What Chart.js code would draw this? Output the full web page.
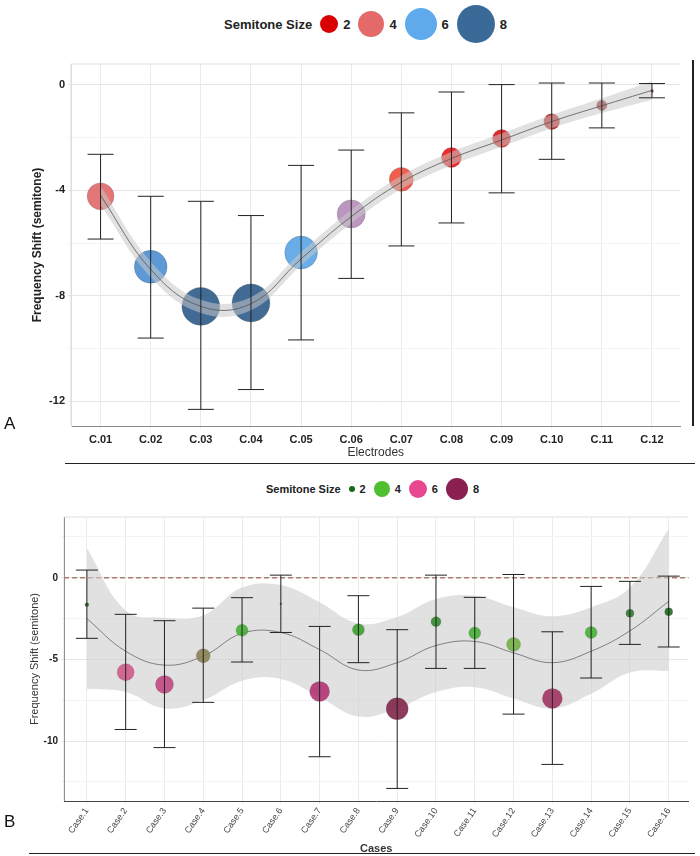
<!DOCTYPE html>
<html>
<head>
<meta charset="utf-8">
<script src="https://cdn.jsdelivr.net/npm/chart.js@4"></script>
<style>
  body { margin: 0; width: 700px; height: 856px; position: relative; background: #fff; font-family: "Liberation Sans", Arial, sans-serif; overflow: hidden; }
  .box { position: absolute; left: 0; width: 700px; }
  .legend { position: absolute; display: flex; align-items: center; font-weight: bold; color: #222; }
  .legend span.dot { display: inline-block; border-radius: 50%; margin: 0 5px 0 8px; }
  .rule { position: absolute; height: 1px; background: #222; }
  .tag { position: absolute; font-size: 17px; color: #111; }
</style>
</head>
<body>
<div class="legend" id="legA" style="left:224px; top:4px; height:40px; font-size:13px;"></div>
<div class="box" style="top:40px; height:420px;"><canvas id="chartA"></canvas></div>
<div style="position:absolute; left:692px; top:60px; width:1.5px; height:366px; background:#222;"></div>
<div class="tag" style="left:4px; top:414px;">A</div>
<div class="rule" style="left:65px; width:630px; top:463px;"></div>

<div class="legend" id="legB" style="left:266px; top:478px; height:22px; font-size:11px;"></div>
<div class="box" style="top:470px; height:386px;"><canvas id="chartB"></canvas></div>
<div class="tag" style="left:4px; top:812px;">B</div>
<div class="rule" style="left:29px; width:666px; top:853px;"></div>

<script>
// ============================================================
//  PANEL A — electrodes
// ============================================================
const electrodes = ['C.01','C.02','C.03','C.04','C.05','C.06','C.07','C.08','C.09','C.10','C.11','C.12'];
const shiftA     = [-4.23,-6.9,-8.4,-8.27,-6.36,-4.9,-3.59,-2.76,-2.04,-1.4,-0.79,-0.24];
const upperA     = [-2.64,-4.23,-4.42,-4.96,-3.06,-2.48,-1.07,-0.28,0,0.06,0.06,0.04];
const lowerA     = [-5.85,-9.6,-12.3,-11.55,-9.67,-7.34,-6.11,-5.24,-4.1,-2.83,-1.64,-0.5];
const sizeA      = [4,6,8,8,6,4.4,3.2,2.2,1.8,1.4,0.6,0.05];
const colorA     = ['#e06868','#4a8ed0','#2c5a88','#2c5a88','#58a4e4','#b48cb8','#f04c3c','#f01414','#e01414','#c41818','#a01c1c','#601010'];
const smoothA    = [-4.2,-7.0,-8.4,-8.3,-6.6,-5.0,-3.7,-2.8,-2.1,-1.4,-0.8,-0.22];
const bandA      = [0.35,0.3,0.25,0.25,0.25,0.25,0.25,0.25,0.25,0.25,0.28,0.35];
const yTicksA    = [0,-4,-8,-12];

// ============================================================
//  PANEL B — cases
// ============================================================
const cases   = ['Case.1','Case.2','Case.3','Case.4','Case.5','Case.6','Case.7','Case.8','Case.9','Case.10','Case.11','Case.12','Case.13','Case.14','Case.15','Case.16'];
const shiftB  = [-1.65,-5.78,-6.53,-4.78,-3.22,-1.59,-6.96,-3.18,-8.02,-2.69,-3.39,-4.08,-7.39,-3.35,-2.18,-2.08];
const upperB  = [0.47,-2.24,-2.63,-1.86,-1.22,0.16,-2.98,-1.1,-3.18,0.16,-1.2,0.2,-3.31,-0.53,-0.22,0.1];
const lowerB  = [-3.71,-9.29,-10.4,-7.63,-5.16,-3.35,-10.96,-5.2,-12.9,-5.55,-5.55,-8.35,-11.43,-6.14,-4.08,-4.24];
const radiusB = [2,8.5,9,7,6,1,10,6,11,5,6,7,10,6,4,4];
const colorB  = ['#1a6a1a','#d05888','#c04480','#8a8050','#40b030','#506050','#b03070','#38a028','#802048','#2c8a2c','#40b030','#70b040','#a03060','#40b030','#2a7a2a','#1a6a1a'];
const smoothB = [-2.5,-4.5,-5.35,-4.8,-3.4,-3.35,-4.4,-5.65,-5.2,-4.15,-3.9,-4.6,-5.2,-4.5,-3.25,-1.45];
const ribUpB  = [1.8,-2.0,-2.45,-2.3,-0.6,-0.45,-1.5,-2.8,-2.4,-1.3,-1.1,-1.8,-2.35,-1.8,-0.6,3.0];
const ribLoB  = [-6.8,-7.0,-8.0,-7.5,-6.3,-6.2,-7.3,-8.5,-8.0,-7.0,-6.7,-7.4,-8.0,-7.1,-5.8,-5.7];
const yTicksB = [0,-5,-10];

const legendA = [['2', '#d80000', 9], ['4', '#e46a6a', 13], ['6', '#5eaaec', 16], ['8', '#3a6a98', 19]];
const legendB = [['2', '#1a6a1a', 3], ['4', '#50c030', 8], ['6', '#e84890', 9], ['8', '#8a2050', 11]];

function buildLegend(id, items) {
  const el = document.getElementById(id);
  el.innerHTML = 'Semitone Size' + items.map(([t, c, r]) =>
    `<span class="dot" style="width:${r*2}px;height:${r*2}px;background:${c}"></span><span>${t}</span>`).join('');
}
buildLegend('legA', legendA);
buildLegend('legB', legendB);

const FONT = '"Liberation Sans", Arial, sans-serif';

// whiskers drawn from the chart's own scales
const errorBars = {
  id: 'errorBars',
  afterDatasetsDraw(chart, args, opts) {
    const { ctx, scales: { x, y } } = chart;
    ctx.save();
    ctx.strokeStyle = '#222';
    ctx.lineWidth = 1;
    opts.lo.forEach((lo, i) => {
      const px = x.getPixelForValue(i + 1);
      const pt = y.getPixelForValue(opts.hi[i]);
      const pb = y.getPixelForValue(lo);
      ctx.beginPath();
      ctx.moveTo(px, pt); ctx.lineTo(px, pb);
      ctx.moveTo(px - opts.cap, pt); ctx.lineTo(px + opts.cap, pt);
      ctx.moveTo(px - opts.cap, pb); ctx.lineTo(px + opts.cap, pb);
      ctx.stroke();
    });
    ctx.restore();
  }
};

const panelFrame = {
  id: 'panelFrame',
  beforeDatasetsDraw(chart, args, opts) {
    const { ctx, chartArea: a } = chart;
    ctx.save();
    ctx.strokeStyle = opts.color;
    ctx.lineWidth = 1;
    ctx.beginPath();
    ctx.moveTo(a.left, a.bottom); ctx.lineTo(a.left, a.top); ctx.lineTo(a.right, a.top);
    ctx.stroke();
    if (opts.zero) {
      const py = chart.scales.y.getPixelForValue(0);
      ctx.strokeStyle = '#b07868';
      ctx.setLineDash([5, 3]);
      ctx.lineWidth = 1.3;
      ctx.beginPath(); ctx.moveTo(a.left, py); ctx.lineTo(a.right, py); ctx.stroke();
    }
    ctx.restore();
  }
};

const pts = (arr) => arr.map((v, i) => ({ x: i + 1, y: v }));

// ---------------- chart A ----------------
new Chart(document.getElementById('chartA'), {
  type: 'scatter',
  data: {
    datasets: [
      { data: pts(smoothA.map((v, i) => v + bandA[i])), showLine: true, pointRadius: 0, borderWidth: 0, tension: 0.4, fill: '+1', backgroundColor: 'rgba(200,200,200,0.55)', order: 1 },
      { data: pts(smoothA.map((v, i) => v - bandA[i])), showLine: true, pointRadius: 0, borderWidth: 0, tension: 0.4, fill: false, order: 1 },
      { data: pts(smoothA), showLine: true, pointRadius: 0, borderColor: '#555', borderWidth: 0.8, tension: 0.4, order: 0 },
      { data: pts(shiftA), pointRadius: sizeA.map(s => Math.sqrt(s) * 6.7), backgroundColor: colorA.map(c => c + 'e6'), borderColor: 'rgba(60,60,60,0.4)', borderWidth: 0.5, order: 2 }
    ]
  },
  options: {
    responsive: true, maintainAspectRatio: false, animation: false,
    layout: { padding: { top: 24, right: 10, left: 30, bottom: 0 } },
    plugins: {
      legend: { display: false }, tooltip: { enabled: false },
      errorBars: { lo: lowerA, hi: upperA, cap: 13 },
      panelFrame: { color: '#ddd' }
    },
    scales: {
      x: {
        type: 'linear', min: 0.41, max: 12.57,
        afterBuildTicks: (s) => { s.ticks = electrodes.map((_, i) => ({ value: i + 1 })); },
        afterFit: (s) => { s.height = 34; },
        ticks: { callback: (v) => electrodes[v - 1], color: '#222', font: { family: FONT, size: 11, weight: 'bold' }, padding: 4 },
        grid: { color: '#ebebeb', tickLength: 3 },
        border: { color: '#888' },
        title: { display: true, text: 'Electrodes', color: '#333', font: { family: FONT, size: 12 }, padding: 0 }
      },
      y: {
        min: -12.93, max: 0.78,
        afterBuildTicks: (s) => { s.ticks = [0,-2,-4,-6,-8,-10,-12].map(v => ({ value: v })); },
        afterFit: (s) => { s.width = 41; },
        ticks: { callback: (v) => yTicksA.includes(v) ? v : '', color: '#222', font: { family: FONT, size: 11, weight: 'bold' } },
        grid: { color: (c) => yTicksA.includes(c.tick && c.tick.value) ? '#e6e6e6' : '#f3f3f3', tickLength: 3 },
        border: { color: '#ddd' },
        title: { display: true, text: 'Frequency Shift (semitone)', color: '#222', font: { family: FONT, size: 12, weight: 'bold' }, padding: 0 }
      }
    }
  },
  plugins: [errorBars, panelFrame]
});

// ---------------- chart B ----------------
new Chart(document.getElementById('chartB'), {
  type: 'scatter',
  data: {
    datasets: [
      { data: pts(ribUpB), showLine: true, pointRadius: 0, borderWidth: 0, tension: 0.4, fill: '+1', backgroundColor: 'rgba(205,205,205,0.6)', order: 3 },
      { data: pts(ribLoB), showLine: true, pointRadius: 0, borderWidth: 0, tension: 0.4, fill: false, order: 3 },
      { data: pts(smoothB), showLine: true, pointRadius: 0, borderColor: '#666', borderWidth: 0.8, tension: 0.4, order: 2 },
      { data: pts(shiftB), pointRadius: radiusB, backgroundColor: colorB.map(c => c + 'e0'), borderColor: 'rgba(60,60,60,0.3)', borderWidth: 0.5, order: 1 }
    ]
  },
  options: {
    responsive: true, maintainAspectRatio: false, animation: false,
    layout: { padding: { top: 47, right: 10, left: 28, bottom: 0 } },
    plugins: {
      legend: { display: false }, tooltip: { enabled: false },
      errorBars: { lo: lowerB, hi: upperB, cap: 11 },
      panelFrame: { color: '#ddd', zero: true }
    },
    scales: {
      x: {
        type: 'linear', min: 0.41, max: 16.51,
        afterBuildTicks: (s) => { s.ticks = cases.map((_, i) => ({ value: i + 1 })); },
        afterFit: (s) => { s.height = 55; },
        ticks: { callback: (v) => cases[v - 1], color: '#444', font: { family: FONT, size: 9 }, maxRotation: 55, minRotation: 55, padding: 2 },
        grid: { color: '#ebebeb', tickLength: 3 },
        border: { color: '#444' },
        title: { display: true, text: 'Cases', color: '#333', font: { family: FONT, size: 11, weight: 'bold' }, padding: 0 }
      },
      y: {
        min: -13.67, max: 3.72,
        afterBuildTicks: (s) => { s.ticks = [2.5,0,-2.5,-5,-7.5,-10,-12.5].map(v => ({ value: v })); },
        afterFit: (s) => { s.width = 36; },
        ticks: { callback: (v) => yTicksB.includes(v) ? v : '', color: '#222', font: { family: FONT, size: 10, weight: 'bold' } },
        grid: { color: (c) => yTicksB.includes(c.tick && c.tick.value) ? '#e6e6e6' : '#f3f3f3', tickLength: 3 },
        border: { color: '#444' },
        title: { display: true, text: 'Frequency Shift (semitone)', color: '#333', font: { family: FONT, size: 11 }, padding: 0 }
      }
    }
  },
  plugins: [errorBars, panelFrame]
});
</script>
</body>
</html>
